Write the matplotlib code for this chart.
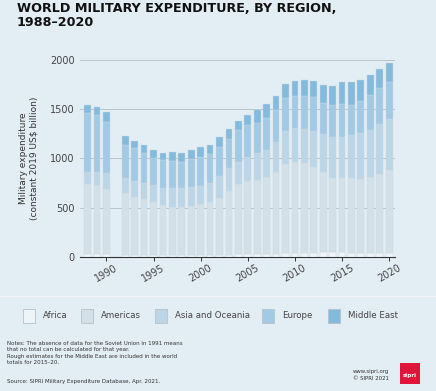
import numpy as np
import matplotlib
matplotlib.use("Agg")
import matplotlib.pyplot as plt
from matplotlib.patches import Rectangle

# world military expenditure by region, constant 2019 US$ bn
years = [1988, 1989, 1990, 1992, 1993, 1994, 1995, 1996, 1997, 1998, 1999,
         2000, 2001, 2002, 2003, 2004, 2005, 2006, 2007, 2008, 2009, 2010,
         2011, 2012, 2013, 2014, 2015, 2016, 2017, 2018, 2019, 2020]
africa = [28, 27, 25, 22, 21, 20, 19, 18, 18, 19, 20,
          21, 22, 23, 24, 25, 27, 28, 30, 33, 36, 38,
          41, 42, 45, 47, 46, 44, 43, 42, 41, 43]
americas = [710, 701, 662, 625, 591, 569, 536, 510, 487, 492, 501,
            514, 540, 573, 646, 715, 745, 754, 785, 833, 905, 930,
            910, 875, 815, 758, 753, 755, 749, 773, 798, 840]
asia = [128, 134, 163, 152, 160, 159, 176, 176, 190, 186, 193,
        189, 186, 229, 230, 220, 246, 270, 271, 298, 338, 338,
        349, 362, 386, 416, 422, 439, 464, 474, 511, 518]
europe = [593, 578, 524, 338, 331, 311, 271, 281, 280, 271, 281,
          294, 295, 288, 298, 329, 322, 305, 322, 328, 338, 332,
          338, 348, 314, 322, 329, 305, 328, 356, 363, 372]
middle_east = [84, 86, 95, 91, 75, 81, 80, 70, 94, 87, 87,
               97, 97, 105, 100, 93, 106, 138, 144, 144, 143, 146,
               158, 158, 188, 194, 222, 229, 213, 200, 194, 192]

regions = ["Africa", "Americas", "Asia and Oceania", "Europe", "Middle East"]
colors = ["#eef4f7", "#d3e0e8", "#bdd6e7", "#a2cae4", "#84badc"]
series = [africa, americas, asia, europe, middle_east]

BG = "#e3edf4"

fig = plt.figure(figsize=(4.36, 3.91), dpi=100, facecolor=BG)
ax = fig.add_axes([0.1835, 0.343, 0.722, 0.5035], facecolor=BG)

bottom = np.zeros(len(years))
for vals, col in zip(series, colors):
    ax.bar(years, vals, bottom=bottom, width=0.72, color=col,
           edgecolor="#c9d8e2", linewidth=0.3, zorder=3)
    bottom += np.array(vals)

ax.set_xlim(1987.2, 2020.6)
ax.set_ylim(0, 2000)
ax.set_yticks([0, 500, 1000, 1500, 2000])
ax.set_xticks([1990, 1995, 2000, 2005, 2010, 2015, 2020])
ax.yaxis.grid(True, color="#b9c3ca", linewidth=0.7, zorder=0)
ax.set_axisbelow(True)
for s in ["top", "right", "left"]:
    ax.spines[s].set_visible(False)
ax.spines["bottom"].set_color("#333333")
ax.spines["bottom"].set_linewidth(0.8)
ax.tick_params(axis="y", length=0, labelsize=7, labelcolor="#444444", pad=4)
ax.tick_params(axis="x", length=3, width=0.7, color="#333333",
               labelsize=7, labelcolor="#444444", pad=1)
for lab in ax.get_xticklabels():
    lab.set_rotation(30)
    lab.set_ha("center")
ax.set_ylabel("Military expenditure\n(constant 2019 US$ billion)",
              fontsize=6.5, color="#333333", labelpad=8, linespacing=1.2)

# title
fig.text(0.039, 0.995, "WORLD MILITARY EXPENDITURE, BY REGION,\n1988\u20132020",
         fontsize=9.2, fontweight="bold", color="#111111", va="top", ha="left",
         linespacing=1.15)

# separator line
fig.add_artist(plt.Line2D([0, 1], [1 - 296 / 391] * 2, color="#f3f7fa", lw=1.0))

# legend
W, H = 436, 391
legend_x = [23, 81, 155, 262, 328]
for x0, name, col in zip(legend_x, regions, colors):
    fig.add_artist(Rectangle((x0 / W, 1 - 323 / H), 12 / W, 14 / H,
                             facecolor=col, edgecolor="#b5c2cb", lw=0.6,
                             transform=fig.transFigure))
    fig.text((x0 + 20) / W, 1 - 316 / H, name, fontsize=6.2, color="#444444",
             va="center", ha="left")

notes = ("Notes: The absence of data for the Soviet Union in 1991 means\n"
         "that no total can be calculated for that year.\n"
         "Rough estimates for the Middle East are included in the world\n"
         "totals for 2015\u201320.")
fig.text(7 / W, 1 - 341 / H, notes, fontsize=4.0, color="#333333",
         va="top", ha="left", linespacing=1.35)
fig.text(7 / W, 1 - 382 / H, "Source: SIPRI Military Expenditure Database, Apr. 2021.",
         fontsize=4.0, color="#333333", va="center", ha="left")

fig.text(371 / W, 1 - 375 / H, "www.sipri.org\n\u00a9 SIPRI 2021", fontsize=3.9,
         color="#333333", va="center", ha="center", linespacing=1.4)
fig.add_artist(Rectangle((400 / W, 1 - 384 / H), 20 / W, 21 / H,
                         facecolor="#e0153c", edgecolor="none",
                         transform=fig.transFigure))
fig.text(410 / W, 1 - 376 / H, "sipri", fontsize=4, fontweight="bold",
         color="white", va="center", ha="center")

fig.savefig("out.png", dpi=100, facecolor=BG)
